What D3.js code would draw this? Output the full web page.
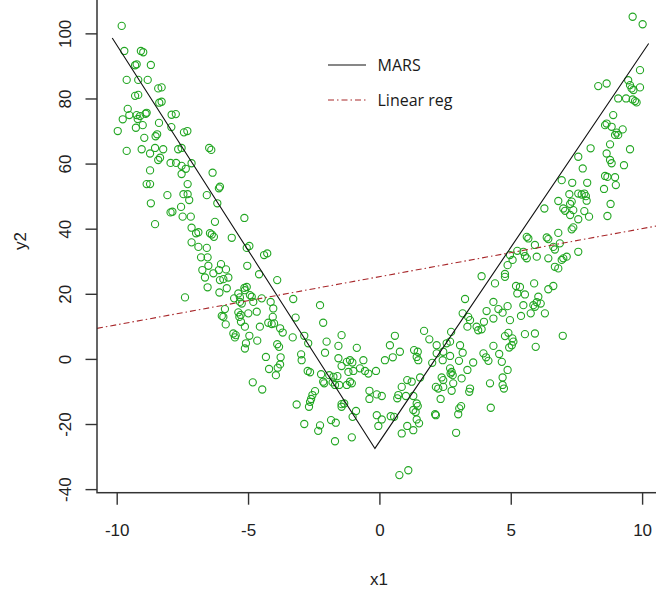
<!DOCTYPE html>
<html>
<head>
<meta charset="utf-8">
<script src="https://cdn.jsdelivr.net/npm/d3@7"></script>
<style>
  html, body { margin: 0; padding: 0; background: #fff; }
  svg { display: block; }
</style>
</head>
<body>
<svg id="chart" width="656" height="595"></svg>
<script>
// Simulated data: x1 vs y2 (V-shaped relation)
const x1 = [
  -9.81,-9.71,-9.08,-8.99,-9.30,-9.24,-8.70,-9.62,-9.18,-8.82,-8.42,-8.29,-9.30,-9.18,-8.29,-8.38,-9.58,-9.77,-9.52,-9.24,
  -9.11,-9.20,-8.90,-8.86,-9.01,-9.27,-8.39,-9.96,-8.95,-8.52,-8.46,-7.92,-7.91,-7.75,-7.44,-7.31,-9.62,-9.05,-8.73,-8.54,
  -8.23,-7.66,-7.53,-6.48,-6.40,-8.42,-8.35,-8.73,-7.95,-7.74,-7.53,-7.37,-7.15,-6.35,-7.53,
  -8.86,-8.73,-7.30,-6.07,-6.11,-8.07,-7.46,-7.30,-7.24,-6.57,-8.70,-6.17,-7.55,-7.88,-7.95,-7.49,-7.18,-5.14,-8.54,-6.26,
  -7.15,-6.89,-6.98,-6.45,-6.38,-6.30,-5.62,-7.15,-6.89,-6.57,-5.05,-4.95,-4.39,-4.27,-6.79,-6.54,-6.51,-6.03,-5.03,-6.74,
  -6.32,-6.11,-5.84,-6.64,-6.07,-5.75,-5.94,-4.58,-3.89,-6.54,-6.09,-5.81,-5.14,-5.05,-5.12,-7.40,-5.37,-5.53,-5.31,-4.93,
  -4.86,-3.28,-4.48,
  -5.31,-5.24,-4.80,-4.14,-2.26,-5.88,-5.37,-5.28,-5.33,-4.99,-4.67,-4.04,-6.00,-5.94,-4.06,-3.19,-2.14,-5.85,-5.27,-4.55,
  -4.23,-4.10,-4.01,-3.78,-5.12,-5.56,-5.47,-5.50,-4.95,-3.68,-3.30,-2.86,-1.44,-4.65,-5.08,-5.12,-3.89,-3.82,-2.71,-2.01,
  -1.56,-0.86,-2.07,-2.98,-2.96,-4.32,-3.76,-1.56,-1.24,-1.12,-1.03,-0.61,-1.44,-3.78,-3.87,-4.20,-2.73,-2.64,-2.22,-1.91,
  -1.75,-1.60,-1.18,-0.99,-0.74,-0.55,-0.42,-0.13,-3.94,-2.14,-2.10,-1.78,-1.69,-1.53,-1.24,-1.12,-1.05,-4.82,-4.46,-2.45,
  -2.55,-2.60,-0.38,-0.10,-0.38,-3.15,-2.68,-2.64,-1.44,-1.44,-1.34,-0.89,-1.02,-0.10,-0.04,-2.86,-2.26,-2.33,-1.84,-1.66,
  -1.69,-1.05,
  3.26,3.17,3.38,3.45,3.35,3.70,3.76,0.59,1.70,2.73,1.90,2.18,2.56,2.69,3.07,0.40,0.78,1.32,1.46,1.42,
  1.48,2.18,2.43,3.17,0.21,0.51,2.01,2.69,2.41,3.03,2.69,2.75,2.79,2.71,3.57,3.35,3.13,2.37,2.43,1.55,
  1.06,1.23,2.81,0.85,2.15,2.24,2.43,2.75,3.45,3.42,0.09,0.72,0.68,1.01,1.29,2.33,1.42,1.46,3.11,3.04,
  2.12,2.15,3.00,1.29,1.38,0.43,0.56,0.09,1.42,1.51,1.06,0.85,1.29,2.92,0.76,1.10,
  4.78,4.78,3.89,4.40,5.20,5.35,5.89,6.62,6.43,5.25,5.54,6.05,4.34,5.48,5.86,5.99,6.14,5.92,4.08,4.53,
  4.88,4.69,5.39,5.76,6.30,4.34,4.97,3.98,3.89,4.91,4.78,5.06,5.10,5.04,4.94,5.54,5.92,6.98,5.95,4.34,
  3.96,4.06,4.15,4.56,4.66,4.88,4.69,4.21,4.69,4.74,4.24,
  4.97,5.25,5.07,4.88,
  8.04,8.78,9.54,7.57,8.65,8.78,8.84,9.31,7.74,8.59,8.68,8.97,6.94,7.34,7.91,9.00,8.55,7.23,7.57,7.70,
  7.80,7.86,7.89,6.81,7.32,7.26,8.80,7.00,7.07,7.38,7.80,6.28,7.98,8.68,7.26,7.57,7.38,7.32,6.81,5.61,
  5.67,6.37,6.43,6.87,6.62,6.68,5.92,7.57,5.48,5.54,5.61,5.99,6.43,7.00,6.94,7.13,6.68,6.81,
  9.64,10.02,9.92,8.33,8.65,9.47,9.54,9.60,9.67,9.92,9.09,9.39,9.64,9.73,9.79,8.90,8.59,8.65,8.84,9.26,
  8.97,9.09,9.03
];
const y2 = [
  102.3,94.6,94.6,94.2,90.2,90.5,90.3,85.7,85.7,85.7,83.1,83.4,80.8,81.1,79.0,78.7,76.8,73.6,74.9,74.9,
  74.6,73.7,75.3,75.6,71.8,71.0,72.5,70.0,67.9,68.4,69.0,71.2,75.0,75.2,69.6,70.0,63.9,64.4,63.1,64.8,
  64.4,64.4,64.8,64.8,64.2,61.1,61.8,57.9,60.2,60.2,59.3,58.4,60.1,57.2,56.8,
  53.7,53.7,53.7,52.9,52.4,50.3,50.6,50.6,48.8,50.3,47.8,47.8,46.7,45.2,45.0,43.7,43.7,43.3,41.4,42.1,
  40.3,38.9,38.6,38.6,38.2,37.5,37.2,35.8,34.4,34.1,34.1,34.7,31.9,32.4,31.2,31.2,28.6,29.1,28.6,27.3,
  26.3,27.3,27.5,25.0,24.2,25.0,24.5,26.0,24.2,22.0,20.4,21.7,21.8,22.1,21.1,18.9,20.1,18.6,18.9,19.6,
  19.1,18.4,18.6,
  17.5,17.0,17.5,17.5,16.5,15.3,14.3,13.5,12.9,14.0,14.5,15.5,13.2,12.9,12.9,12.7,11.1,10.6,11.4,9.9,
  11.1,10.7,10.9,9.4,9.9,7.8,7.3,6.6,7.1,8.1,6.6,7.1,7.3,5.6,4.8,3.2,4.5,3.7,4.8,5.3,
  4.0,3.4,1.9,1.4,-0.4,0.6,0.5,0.2,-0.9,-0.4,-1.1,-0.4,-2.2,-1.7,-2.7,-3.1,-3.7,-4.1,-4.7,-5.0,
  -5.5,-5.3,-4.0,-3.7,-2.9,-3.7,-4.5,-3.7,-5.0,-7.0,-7.5,-7.2,-8.0,-8.0,-8.0,-7.0,-7.5,-7.2,-9.4,-9.9,
  -11.1,-12.3,-9.8,-10.9,-12.3,-14.0,-14.7,-13.2,-13.9,-14.7,-13.7,-16.0,-17.8,-17.3,-20.6,-20.0,-20.4,-22.1,-18.8,-19.6,
  -25.3,-24.1,
  18.4,14.0,12.9,11.9,9.9,9.9,8.8,7.1,8.6,8.3,6.0,4.2,4.8,5.3,4.2,4.2,2.2,2.7,2.2,0.6,
  -0.4,1.7,2.2,1.9,-0.4,0.5,-1.2,0.9,-0.4,-0.6,-2.9,-4.0,-5.0,-4.5,-1.1,-3.4,-6.0,-5.7,-6.5,-5.7,
  -6.5,-7.0,-7.5,-8.6,-8.6,-9.1,-8.6,-9.8,-9.1,-10.1,-11.4,-11.1,-12.1,-11.4,-11.4,-12.3,-13.7,-14.5,-14.5,-15.2,
  -17.0,-17.3,-17.0,-15.7,-16.3,-17.6,-17.8,-18.6,-18.6,-19.8,-20.6,-22.9,-21.9,-22.7,-35.7,-34.2,
  26.1,25.2,25.4,23.2,22.4,22.1,23.2,22.4,21.4,20.1,19.8,19.1,17.5,16.5,16.5,17.4,17.0,16.0,14.7,15.3,
  16.2,14.2,13.2,14.0,14.0,12.4,11.9,11.4,9.1,8.0,7.0,6.3,5.3,4.2,3.5,7.6,7.8,7.1,3.7,4.0,
  1.7,0.5,-0.6,1.5,-0.9,-3.4,-5.7,-7.5,-8.0,-9.1,-15.0,
  31.9,33.2,30.4,28.8,
  64.7,65.9,64.4,62.1,63.1,61.1,60.1,59.5,58.5,56.2,55.9,55.8,54.9,54.1,54.1,53.4,52.2,50.6,50.8,50.5,
  50.8,50.0,48.6,48.5,48.3,47.6,47.6,46.2,45.5,45.7,45.4,46.2,43.7,43.9,44.2,42.9,40.4,39.8,38.7,37.5,
  37.0,37.3,36.8,35.5,34.4,33.6,35.0,32.9,32.9,31.6,30.9,31.4,30.9,30.9,30.4,31.4,28.3,27.8,
  105.1,102.8,88.7,83.8,84.6,85.6,84.1,83.1,82.6,83.4,80.0,80.0,79.7,79.2,78.8,74.9,71.8,72.3,71.3,70.5,
  68.8,68.8,69.5
];

// MARS fit: hinge model evaluated at the ends and the knot
const marsX = [-10.17, -0.17, 10.25];
const marsY = [98.6, -27.5, 96.9];

// Ordinary least squares fit: intercept, slope
const lmCoef = [25.25, 1.477];

const xTicks = [-10, -5, 0, 5, 10];
const yTicks = [-40, -20, 0, 20, 40, 60, 80, 100];

const legendLabels = ["MARS", "Linear reg"];

const svg = d3.select("#chart");

const x = d3.scaleLinear().domain([-10.75, 11.1]).range([97, 671]);
const y = d3.scaleLinear().domain([-41.1, 112]).range([492.7, -5.7]);

const axisFont = "'Liberation Sans', Arial, sans-serif";
const ink = "#222";

// points
svg.append("g")
  .selectAll("circle")
  .data(d3.range(x1.length))
  .join("circle")
  .attr("cx", i => x(x1[i]))
  .attr("cy", i => y(y2[i]))
  .attr("r", 3.6)
  .attr("fill", "none")
  .attr("stroke", "#22a622")
  .attr("stroke-width", 1.1);

// linear regression line across the plot region
const [xa, xb] = x.domain();
svg.append("line")
  .attr("x1", x(xa)).attr("y1", y(lmCoef[0] + lmCoef[1] * xa))
  .attr("x2", x(xb)).attr("y2", y(lmCoef[0] + lmCoef[1] * xb))
  .attr("stroke", "#a8282b")
  .attr("stroke-width", 1.1)
  .attr("stroke-dasharray", "6,3,1.5,3");

// MARS fit
svg.append("path")
  .datum(d3.range(marsX.length))
  .attr("d", d3.line().x(i => x(marsX[i])).y(i => y(marsY[i])))
  .attr("fill", "none")
  .attr("stroke", "#111")
  .attr("stroke-width", 1.1);

// plot box (top and right edges lie outside the view)
svg.append("rect")
  .attr("x", 97).attr("y", -30)
  .attr("width", 700).attr("height", 492.7 + 30)
  .attr("fill", "none")
  .attr("stroke", "#333")
  .attr("stroke-width", 1.5);

// x axis
const gx = svg.append("g")
  .attr("transform", "translate(0,492.7)")
  .call(d3.axisBottom(x).tickValues(xTicks).tickFormat(d => String(d))
    .tickSizeInner(12).tickSizeOuter(0).tickPadding(19.5));
gx.select(".domain").remove();
gx.selectAll(".tick line").attr("stroke", "#333").attr("stroke-width", 1.4);
gx.selectAll(".tick text")
  .attr("font-family", axisFont).attr("font-size", 17).attr("fill", ink);

// y axis with labels parallel to the axis
const gy = svg.append("g")
  .attr("transform", "translate(97,0)")
  .call(d3.axisLeft(y).tickValues(yTicks).tickFormat(d => String(d))
    .tickSizeInner(11.5).tickSizeOuter(0));
gy.select(".domain").remove();
gy.selectAll(".tick line").attr("stroke", "#333").attr("stroke-width", 1.4);
gy.selectAll(".tick text")
  .attr("x", null).attr("dy", null)
  .attr("transform", "translate(-26.5,0) rotate(-90)")
  .attr("text-anchor", "middle")
  .attr("font-family", axisFont).attr("font-size", 17).attr("fill", ink);

// axis titles
svg.append("text")
  .attr("x", 379).attr("y", 585)
  .attr("text-anchor", "middle")
  .attr("font-family", axisFont).attr("font-size", 17).attr("fill", ink)
  .text("x1");

svg.append("text")
  .attr("transform", "translate(25.5,241) rotate(-90)")
  .attr("text-anchor", "middle")
  .attr("font-family", axisFont).attr("font-size", 17).attr("fill", ink)
  .text("y2");

// legend
const legend = svg.append("g").attr("font-family", "'Open Sans', 'Noto Sans', sans-serif")
  .attr("font-size", 16).attr("fill", "#1a1a1a");
const legendStyles = [
  { stroke: "#111", dash: null, yPos: 65 },
  { stroke: "#a8282b", dash: "6,3,1.5,3", yPos: 100 }
];
legendLabels.forEach((lab, i) => {
  const s = legendStyles[i];
  legend.append("line")
    .attr("x1", 328).attr("x2", 366).attr("y1", s.yPos).attr("y2", s.yPos)
    .attr("stroke", s.stroke).attr("stroke-width", 1.1)
    .attr("stroke-dasharray", s.dash);
  legend.append("text")
    .attr("x", 377.5).attr("y", s.yPos + 5.5)
    .text(lab);
});
</script>
</body>
</html>
